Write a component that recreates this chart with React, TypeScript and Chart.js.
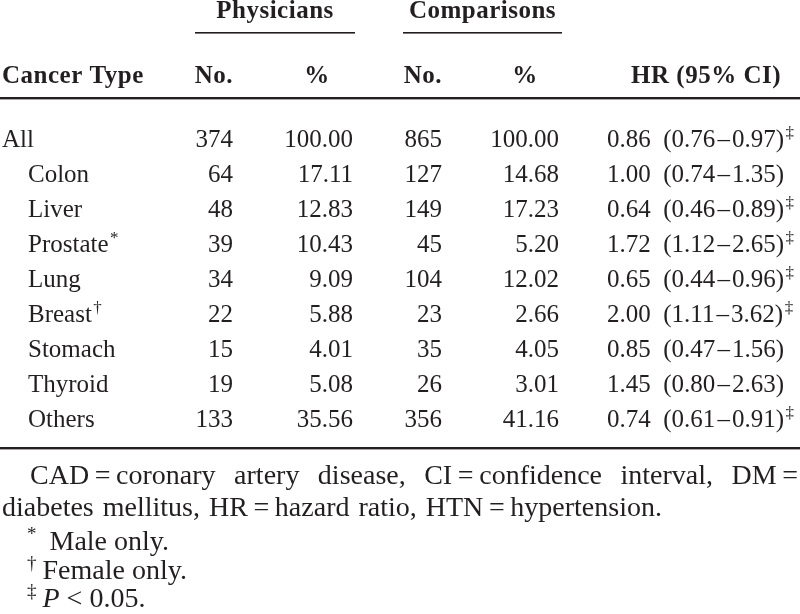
import React, { useEffect, useRef } from "react";
import { Chart, registerables } from "chart.js";

Chart.register(...registerables);

// ---------- data ----------
const cancerTypes = ["All", "Colon", "Liver", "Prostate", "Lung", "Breast", "Stomach", "Thyroid", "Others"];
const typeMarks = ["", "", "", "*", "", "\u2020", "", "", ""];
const physiciansNo = [374, 64, 48, 39, 34, 22, 15, 19, 133];
const physiciansPct = [100.0, 17.11, 12.83, 10.43, 9.09, 5.88, 4.01, 5.08, 35.56];
const comparisonsNo = [865, 127, 149, 45, 104, 23, 35, 26, 356];
const comparisonsPct = [100.0, 14.68, 17.23, 5.2, 12.02, 2.66, 4.05, 3.01, 41.16];
const hazardRatio = [0.86, 1.0, 0.64, 1.72, 0.65, 2.0, 0.85, 1.45, 0.74];
const ciLower = [0.76, 0.74, 0.46, 1.12, 0.44, 1.11, 0.47, 0.8, 0.61];
const ciUpper = [0.97, 1.35, 0.89, 2.65, 0.96, 3.62, 1.56, 2.63, 0.91];
const significant = [true, false, true, true, true, true, false, false, true];

const groupHeaders = ["Physicians", "Comparisons"];
const columnHeaders = ["Cancer Type", "No.", "%", "No.", "%", "HR (95% CI)"];
const footnoteLine1 = ["CAD\u2009=\u2009coronary", "artery", "disease,", "CI\u2009=\u2009confidence", "interval,", "DM\u2009="];
const footnoteLine2 = "diabetes mellitus, HR\u2009=\u2009hazard ratio, HTN\u2009=\u2009hypertension.";
const noteMarks = ["*", "\u2020", "\u2021"];
const noteTexts = ["Male only.", "Female only.", "P < 0.05."];

// ---------- layout / style ----------
const W = 800;
const H = 614;
const INK = "#231f20";
const SERIF = '"Liberation Serif", "Times New Roman", serif';
const BODY = `25px ${SERIF}`;
const BOLD = `bold 25px ${SERIF}`;
const NOTE = `28px ${SERIF}`;
const SUP = `17px ${SERIF}`;
const ROW_MIN = -4.2;
const ROW_MAX = 13.343;

// column anchors on the x scale (0..800)
const COL = {
  typeLeft: 2,
  typeIndent: 28,
  pNo: 233,
  pPct: 353,
  cNo: 442,
  cPct: 559,
  hr: 607,
};
const HEADER_ANCHORS: [number, CanvasTextAlign][] = [
  [2, "left"],
  [233, "right"],
  [317, "center"],
  [442, "right"],
  [525, "center"],
  [781, "right"],
];
const GROUP_SPANS = [
  [195, 355],
  [403, 562],
];

const fmt2 = (v: number) => v.toFixed(2);
const rowIdx = cancerTypes.map((_, i) => i);

const cellPlugin = {
  id: "tableCells",
  afterDatasetsDraw(chart: any) {
    const ctx: CanvasRenderingContext2D = chart.ctx;
    const xs = chart.scales.x;
    const ys = chart.scales.y;
    const row0 = ys.getPixelForValue(0);
    const rowLast = ys.getPixelForValue(cancerTypes.length - 1);
    ctx.save();
    ctx.fillStyle = INK;
    ctx.textBaseline = "alphabetic";
    const text = (
      s: string,
      x: number,
      y: number,
      font: string,
      align: CanvasTextAlign = "left",
      ls = "0px",
      ws = "0px"
    ) => {
      ctx.font = font;
      ctx.textAlign = align;
      (ctx as any).letterSpacing = ls;
      (ctx as any).wordSpacing = ws;
      ctx.fillText(s, x, y);
      const w = ctx.measureText(s).width;
      (ctx as any).letterSpacing = "0px";
      (ctx as any).wordSpacing = "0px";
      return w;
    };

    // group headers + underlines
    groupHeaders.forEach((g, i) => {
      const [a, b] = GROUP_SPANS[i];
      const xa = xs.getPixelForValue(a);
      const xb = xs.getPixelForValue(b);
      text(g, (xa + xb) / 2, row0 - 129, BOLD, "center", "0.5px");
      ctx.fillRect(xa, row0 - 115, xb - xa, 1.6);
    });

    // column headers
    columnHeaders.forEach((h, i) => {
      const [ax, al] = HEADER_ANCHORS[i];
      text(h, xs.getPixelForValue(ax), row0 - 64, BOLD, al, "0.5px");
    });

    // rules
    const left = chart.chartArea.left;
    const width = chart.chartArea.right - chart.chartArea.left;
    ctx.fillRect(left, row0 - 50, width, 2.4);
    ctx.fillRect(left, rowLast + 20, width, 2.4);

    // cells via dataset elements
    chart.data.datasets.forEach((ds: any, di: number) => {
      const meta = chart.getDatasetMeta(di);
      meta.data.forEach((el: any, i: number) => {
        const s = ds.cellText[i];
        const w = text(s, el.x, el.y, BODY, ds.cellAlign);
        const mark = ds.cellMarks ? ds.cellMarks[i] : "";
        if (mark) {
          const endX = ds.cellAlign === "right" ? el.x : el.x + w;
          text(mark, endX + 1.5, el.y - 9, SUP, "left");
        }
      });
    });

    // footnotes
    const fnLeft = xs.getPixelForValue(2);
    const fnIndent = xs.getPixelForValue(30);
    const fnRight = xs.getPixelForValue(798);
    ctx.font = NOTE;
    const widths = footnoteLine1.map((t) => ctx.measureText(t).width);
    const total = widths.reduce((a, b) => a + b, 0);
    const gap = (fnRight - fnIndent - total) / (footnoteLine1.length - 1);
    let cx = fnIndent;
    const y1 = rowLast + 57;
    footnoteLine1.forEach((t, i) => {
      text(t, cx, y1, NOTE);
      cx += widths[i] + gap;
    });
    text(footnoteLine2, fnLeft, rowLast + 89, NOTE, "left", "0px", "2px");
    const noteYs = [rowLast + 123, rowLast + 152, rowLast + 180];
    const noteMarkX = xs.getPixelForValue(27);
    noteTexts.forEach((t, i) => {
      const y = noteYs[i];
      const mw = text(noteMarks[i], noteMarkX, y - 10, `19px ${SERIF}`);
      const tx = noteMarkX + mw + (i === 0 ? 13 : 6);
      if (t.startsWith("P ")) {
        const pw = text("P", tx, y, `italic ${NOTE}`);
        text(t.slice(1), tx + pw, y, NOTE);
      } else {
        text(t, tx, y, NOTE);
      }
    });
    ctx.restore();
  },
};

export default function App() {
  const ref = useRef<HTMLCanvasElement | null>(null);
  useEffect(() => {
    document.body.style.margin = "0";
    const mk = (x: number, texts: string[], align: CanvasTextAlign, marks?: string[]) => ({
      label: "",
      data: rowIdx.map((i) => ({ x: i === 0 && x === COL.typeIndent ? COL.typeLeft : x, y: i })),
      cellText: texts,
      cellAlign: align,
      cellMarks: marks,
      pointRadius: 0,
      pointHoverRadius: 0,
      showLine: false,
    });
    const chart = new Chart(ref.current as HTMLCanvasElement, {
      type: "scatter",
      data: {
        datasets: [
          mk(COL.typeIndent, cancerTypes, "left", typeMarks),
          mk(COL.pNo, physiciansNo.map(String), "right"),
          mk(COL.pPct, physiciansPct.map(fmt2), "right"),
          mk(COL.cNo, comparisonsNo.map(String), "right"),
          mk(COL.cPct, comparisonsPct.map(fmt2), "right"),
          mk(
            COL.hr,
            hazardRatio.map(
              (v, i) => `${fmt2(v)}\u2007(${fmt2(ciLower[i])}\u200A\u2013\u200A${fmt2(ciUpper[i])})`
            ),
            "left",
            significant.map((s) => (s ? "\u2021" : ""))
          ),
        ] as any,
      },
      options: {
        responsive: false,
        maintainAspectRatio: false,
        animation: false,
        devicePixelRatio: 1,
        layout: { padding: 0 },
        events: [],
        plugins: { legend: { display: false }, tooltip: { enabled: false } },
        scales: {
          x: { type: "linear", min: 0, max: W, display: false },
          y: { type: "linear", min: ROW_MIN, max: ROW_MAX, reverse: true, display: false },
        },
      },
      plugins: [cellPlugin],
    });
    return () => chart.destroy();
  }, []);
  return (
    <div style={{ position: "fixed", left: 0, top: 0, width: W, height: H, background: "#fff" }}>
      <canvas ref={ref} width={W} height={H} style={{ display: "block", width: W, height: H }} />
    </div>
  );
}
